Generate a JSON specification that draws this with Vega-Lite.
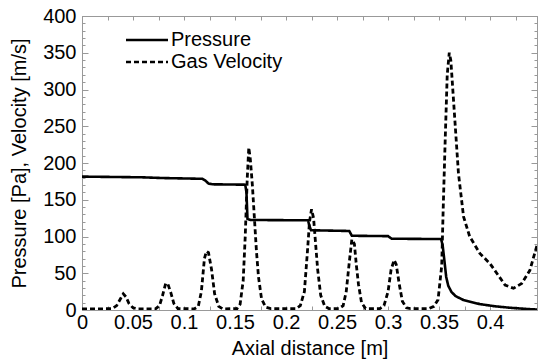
{
  "$schema": "https://vega.github.io/schema/vega-lite/v6.json",
  "width": 455,
  "height": 294,
  "autosize": "none",
  "padding": {"left": 82, "top": 16, "right": 2, "bottom": 51},
  "background": "white",
  "config": {
    "font": "Liberation Sans",
    "view": {"stroke": "#999"},
    "axis": {"domainColor": "#999", "tickColor": "#999", "labelColor": "black", "titleColor": "black", "labelFont": "Liberation Sans", "titleFont": "Liberation Sans", "labelFontSize": 20, "titleFontSize": 20, "titleFontWeight": "normal", "grid": false, "labelFlush": false, "labelOverlap": false, "labelBound": false}
  },
  "datasets": {
    "curves": [
      {"x": 0, "v": 181.5, "s": "Pressure"},
      {"x": 0.03, "v": 181, "s": "Pressure"},
      {"x": 0.06, "v": 180.5, "s": "Pressure"},
      {"x": 0.08, "v": 179.5, "s": "Pressure"},
      {"x": 0.118, "v": 178.5, "s": "Pressure"},
      {"x": 0.121, "v": 176, "s": "Pressure"},
      {"x": 0.124, "v": 172, "s": "Pressure"},
      {"x": 0.128, "v": 171, "s": "Pressure"},
      {"x": 0.16, "v": 170.5, "s": "Pressure"},
      {"x": 0.1612, "v": 160, "s": "Pressure"},
      {"x": 0.1622, "v": 124, "s": "Pressure"},
      {"x": 0.165, "v": 122.5, "s": "Pressure"},
      {"x": 0.2215, "v": 122, "s": "Pressure"},
      {"x": 0.223, "v": 114, "s": "Pressure"},
      {"x": 0.2245, "v": 108.5, "s": "Pressure"},
      {"x": 0.262, "v": 107.5, "s": "Pressure"},
      {"x": 0.2645, "v": 101, "s": "Pressure"},
      {"x": 0.3, "v": 100.5, "s": "Pressure"},
      {"x": 0.3035, "v": 97, "s": "Pressure"},
      {"x": 0.352, "v": 96.5, "s": "Pressure"},
      {"x": 0.3535, "v": 88, "s": "Pressure"},
      {"x": 0.355, "v": 70, "s": "Pressure"},
      {"x": 0.357, "v": 45, "s": "Pressure"},
      {"x": 0.359, "v": 33, "s": "Pressure"},
      {"x": 0.362, "v": 25, "s": "Pressure"},
      {"x": 0.366, "v": 19, "s": "Pressure"},
      {"x": 0.374, "v": 13.5, "s": "Pressure"},
      {"x": 0.39, "v": 8, "s": "Pressure"},
      {"x": 0.405, "v": 5, "s": "Pressure"},
      {"x": 0.42, "v": 3, "s": "Pressure"},
      {"x": 0.435, "v": 1.5, "s": "Pressure"},
      {"x": 0.446, "v": 0.6, "s": "Pressure"},
      {"x": 0, "v": 1.5, "s": "Gas Velocity"},
      {"x": 0.02, "v": 1.5, "s": "Gas Velocity"},
      {"x": 0.03, "v": 2, "s": "Gas Velocity"},
      {"x": 0.034, "v": 6, "s": "Gas Velocity"},
      {"x": 0.038, "v": 16, "s": "Gas Velocity"},
      {"x": 0.0405, "v": 22, "s": "Gas Velocity"},
      {"x": 0.043, "v": 18, "s": "Gas Velocity"},
      {"x": 0.046, "v": 9, "s": "Gas Velocity"},
      {"x": 0.05, "v": 3, "s": "Gas Velocity"},
      {"x": 0.055, "v": 1.5, "s": "Gas Velocity"},
      {"x": 0.072, "v": 1.5, "s": "Gas Velocity"},
      {"x": 0.076, "v": 6, "s": "Gas Velocity"},
      {"x": 0.079, "v": 20, "s": "Gas Velocity"},
      {"x": 0.082, "v": 36, "s": "Gas Velocity"},
      {"x": 0.084, "v": 36, "s": "Gas Velocity"},
      {"x": 0.087, "v": 24, "s": "Gas Velocity"},
      {"x": 0.09, "v": 9, "s": "Gas Velocity"},
      {"x": 0.094, "v": 2, "s": "Gas Velocity"},
      {"x": 0.11, "v": 1.5, "s": "Gas Velocity"},
      {"x": 0.114, "v": 5, "s": "Gas Velocity"},
      {"x": 0.117, "v": 25, "s": "Gas Velocity"},
      {"x": 0.12, "v": 70, "s": "Gas Velocity"},
      {"x": 0.122, "v": 80, "s": "Gas Velocity"},
      {"x": 0.124, "v": 78, "s": "Gas Velocity"},
      {"x": 0.127, "v": 55, "s": "Gas Velocity"},
      {"x": 0.13, "v": 22, "s": "Gas Velocity"},
      {"x": 0.134, "v": 5, "s": "Gas Velocity"},
      {"x": 0.138, "v": 1.5, "s": "Gas Velocity"},
      {"x": 0.152, "v": 2, "s": "Gas Velocity"},
      {"x": 0.155, "v": 8, "s": "Gas Velocity"},
      {"x": 0.158, "v": 40, "s": "Gas Velocity"},
      {"x": 0.16, "v": 100, "s": "Gas Velocity"},
      {"x": 0.162, "v": 180, "s": "Gas Velocity"},
      {"x": 0.1635, "v": 221, "s": "Gas Velocity"},
      {"x": 0.165, "v": 205, "s": "Gas Velocity"},
      {"x": 0.167, "v": 170, "s": "Gas Velocity"},
      {"x": 0.169, "v": 125, "s": "Gas Velocity"},
      {"x": 0.171, "v": 80, "s": "Gas Velocity"},
      {"x": 0.173, "v": 45, "s": "Gas Velocity"},
      {"x": 0.176, "v": 15, "s": "Gas Velocity"},
      {"x": 0.18, "v": 4, "s": "Gas Velocity"},
      {"x": 0.185, "v": 2, "s": "Gas Velocity"},
      {"x": 0.21, "v": 2, "s": "Gas Velocity"},
      {"x": 0.214, "v": 6, "s": "Gas Velocity"},
      {"x": 0.218, "v": 25, "s": "Gas Velocity"},
      {"x": 0.221, "v": 80, "s": "Gas Velocity"},
      {"x": 0.223, "v": 120, "s": "Gas Velocity"},
      {"x": 0.225, "v": 137, "s": "Gas Velocity"},
      {"x": 0.227, "v": 125, "s": "Gas Velocity"},
      {"x": 0.229, "v": 90, "s": "Gas Velocity"},
      {"x": 0.231, "v": 55, "s": "Gas Velocity"},
      {"x": 0.234, "v": 20, "s": "Gas Velocity"},
      {"x": 0.238, "v": 5, "s": "Gas Velocity"},
      {"x": 0.242, "v": 2, "s": "Gas Velocity"},
      {"x": 0.252, "v": 2, "s": "Gas Velocity"},
      {"x": 0.256, "v": 6, "s": "Gas Velocity"},
      {"x": 0.259, "v": 25, "s": "Gas Velocity"},
      {"x": 0.262, "v": 65, "s": "Gas Velocity"},
      {"x": 0.2645, "v": 96, "s": "Gas Velocity"},
      {"x": 0.267, "v": 90, "s": "Gas Velocity"},
      {"x": 0.269, "v": 60, "s": "Gas Velocity"},
      {"x": 0.271, "v": 35, "s": "Gas Velocity"},
      {"x": 0.274, "v": 10, "s": "Gas Velocity"},
      {"x": 0.278, "v": 2, "s": "Gas Velocity"},
      {"x": 0.292, "v": 2, "s": "Gas Velocity"},
      {"x": 0.296, "v": 6, "s": "Gas Velocity"},
      {"x": 0.3, "v": 25, "s": "Gas Velocity"},
      {"x": 0.303, "v": 55, "s": "Gas Velocity"},
      {"x": 0.306, "v": 68, "s": "Gas Velocity"},
      {"x": 0.308, "v": 62, "s": "Gas Velocity"},
      {"x": 0.311, "v": 35, "s": "Gas Velocity"},
      {"x": 0.314, "v": 12, "s": "Gas Velocity"},
      {"x": 0.318, "v": 3, "s": "Gas Velocity"},
      {"x": 0.322, "v": 2, "s": "Gas Velocity"},
      {"x": 0.34, "v": 2, "s": "Gas Velocity"},
      {"x": 0.345, "v": 5, "s": "Gas Velocity"},
      {"x": 0.349, "v": 14, "s": "Gas Velocity"},
      {"x": 0.3526, "v": 60, "s": "Gas Velocity"},
      {"x": 0.354, "v": 135, "s": "Gas Velocity"},
      {"x": 0.356, "v": 231, "s": "Gas Velocity"},
      {"x": 0.358, "v": 320, "s": "Gas Velocity"},
      {"x": 0.36, "v": 350, "s": "Gas Velocity"},
      {"x": 0.3615, "v": 340, "s": "Gas Velocity"},
      {"x": 0.3624, "v": 322, "s": "Gas Velocity"},
      {"x": 0.3657, "v": 254, "s": "Gas Velocity"},
      {"x": 0.369, "v": 186, "s": "Gas Velocity"},
      {"x": 0.374, "v": 127, "s": "Gas Velocity"},
      {"x": 0.38, "v": 100, "s": "Gas Velocity"},
      {"x": 0.39, "v": 77, "s": "Gas Velocity"},
      {"x": 0.4, "v": 63, "s": "Gas Velocity"},
      {"x": 0.4066, "v": 50, "s": "Gas Velocity"},
      {"x": 0.4147, "v": 34, "s": "Gas Velocity"},
      {"x": 0.423, "v": 29.5, "s": "Gas Velocity"},
      {"x": 0.431, "v": 36, "s": "Gas Velocity"},
      {"x": 0.439, "v": 54, "s": "Gas Velocity"},
      {"x": 0.446, "v": 88, "s": "Gas Velocity"}
    ]
  },
  "data": {"name": "curves"},
  "resolve": {"axis": {"x": "independent", "y": "independent"}},
  "layer": [
    {
      "transform": [{"filter": "datum.s === 'Pressure'"}],
      "mark": {"type": "line", "color": "black", "strokeWidth": 2.6, "clip": true},
      "encoding": {
        "x": {"field": "x", "type": "quantitative", "scale": {"domain": [0, 0.446], "nice": false, "zero": false},
          "axis": {"orient": "bottom", "title": "Axial distance [m]", "titlePadding": 6, "values": [0, 0.025, 0.05, 0.075, 0.1, 0.125, 0.15, 0.175, 0.2, 0.225, 0.25, 0.275, 0.3, 0.325, 0.35, 0.375, 0.4, 0.425], "labelExpr": "round(datum.value*40) % 2 == 0 ? format(datum.value, '~g') : ''", "tickSize": -4, "labelPadding": 6}},
        "y": {"field": "v", "type": "quantitative", "scale": {"domain": [0, 400], "nice": false},
          "axis": {"orient": "left", "title": "Pressure [Pa], Velocity [m/s]", "titlePadding": 13, "values": [0, 10, 20, 30, 40, 50, 60, 70, 80, 90, 100, 110, 120, 130, 140, 150, 160, 170, 180, 190, 200, 210, 220, 230, 240, 250, 260, 270, 280, 290, 300, 310, 320, 330, 340, 350, 360, 370, 380, 390, 400], "labelExpr": "datum.value % 50 == 0 ? datum.label : ''", "tickSize": {"condition": {"test": "datum.value % 50 == 0", "value": -6}, "value": -3}, "labelPadding": 12}},
        "strokeDash": {"field": "s", "type": "nominal", "scale": {"domain": ["Pressure", "Gas Velocity"], "range": [[1, 0], [5, 3]]},
          "legend": {"orient": "none", "legendX": 53, "legendY": 12, "title": null, "symbolType": "M-2,0H2", "symbolSize": 441, "symbolStrokeColor": "black", "symbolFillColor": "transparent", "symbolStrokeWidth": 2.6, "labelFontSize": 20, "labelFont": "Liberation Sans", "labelOffset": 12, "rowPadding": 0, "padding": 0}}
      }
    },
    {
      "transform": [{"filter": "datum.s === 'Gas Velocity'"}],
      "mark": {"type": "line", "color": "black", "strokeWidth": 2.8, "clip": true},
      "encoding": {
        "x": {"field": "x", "type": "quantitative", "axis": {"orient": "top", "title": null, "labels": false, "values": [0, 0.025, 0.05, 0.075, 0.1, 0.125, 0.15, 0.175, 0.2, 0.225, 0.25, 0.275, 0.3, 0.325, 0.35, 0.375, 0.4, 0.425], "tickSize": -4}},
        "y": {"field": "v", "type": "quantitative", "axis": {"orient": "right", "title": null, "labels": false, "values": [0, 10, 20, 30, 40, 50, 60, 70, 80, 90, 100, 110, 120, 130, 140, 150, 160, 170, 180, 190, 200, 210, 220, 230, 240, 250, 260, 270, 280, 290, 300, 310, 320, 330, 340, 350, 360, 370, 380, 390, 400], "tickSize": {"condition": {"test": "datum.value % 50 == 0", "value": -6}, "value": -3}}},
        "strokeDash": {"field": "s", "type": "nominal"}
      }
    }
  ]
}
